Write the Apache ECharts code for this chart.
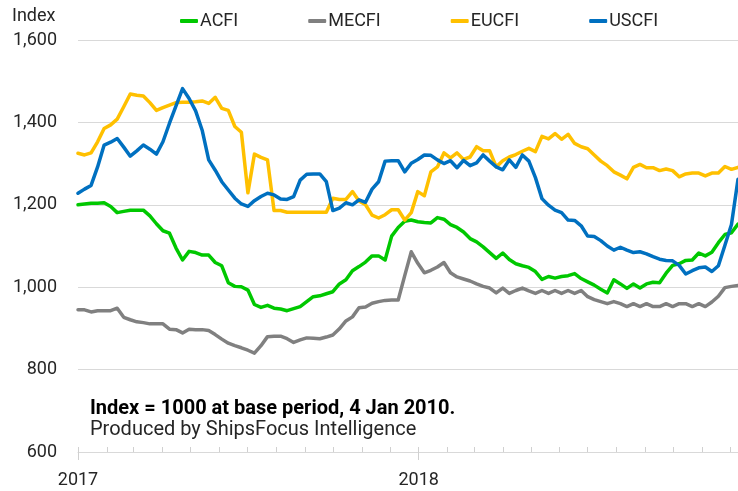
<!DOCTYPE html>
<html>
<head>
<meta charset="utf-8">
<script src="https://cdn.jsdelivr.net/npm/echarts@6/dist/echarts.min.js"></script>
<style>
html,body{margin:0;padding:0;background:#fff;}
#chart{width:738px;height:491px;}
</style>
</head>
<body>
<div id="chart"></div>
<script>
// Weekly observation dates
const dates = [
'2017-01-01','2017-01-08','2017-01-15','2017-01-22','2017-01-29',
'2017-02-05','2017-02-12','2017-02-19','2017-02-26',
'2017-03-05','2017-03-12','2017-03-19','2017-03-26',
'2017-04-02','2017-04-09','2017-04-16','2017-04-23','2017-04-30',
'2017-05-07','2017-05-14','2017-05-21','2017-05-28',
'2017-06-04','2017-06-11','2017-06-18','2017-06-25',
'2017-07-02','2017-07-09','2017-07-16','2017-07-23','2017-07-30',
'2017-08-06','2017-08-13','2017-08-20','2017-08-27',
'2017-09-03','2017-09-10','2017-09-17','2017-09-24',
'2017-10-01','2017-10-08','2017-10-15','2017-10-22','2017-10-29',
'2017-11-05','2017-11-12','2017-11-19','2017-11-26',
'2017-12-03','2017-12-10','2017-12-17','2017-12-24','2017-12-31',
'2018-01-07','2018-01-14','2018-01-21','2018-01-28',
'2018-02-04','2018-02-11','2018-02-18','2018-02-25',
'2018-03-04','2018-03-11','2018-03-18','2018-03-25',
'2018-04-01','2018-04-08','2018-04-15','2018-04-22','2018-04-29',
'2018-05-06','2018-05-13','2018-05-20','2018-05-27',
'2018-06-03','2018-06-10','2018-06-17','2018-06-24',
'2018-07-01','2018-07-08','2018-07-15','2018-07-22','2018-07-29',
'2018-08-05','2018-08-12','2018-08-19','2018-08-26',
'2018-09-02','2018-09-09','2018-09-16','2018-09-23','2018-09-30',
'2018-10-07','2018-10-14','2018-10-21','2018-10-28',
'2018-11-04','2018-11-11','2018-11-18','2018-11-25',
'2018-12-02','2018-12-09'
];

const ACFI = [
1200,1202,1204,1204,1205,1196,1181,1184,1187,1187,
1187,1173,1154,1137,1131,1095,1066,1087,1084,1078,
1078,1060,1052,1011,1002,1001,993,958,951,956,
949,947,943,948,953,965,977,979,984,989,
1008,1018,1040,1050,1061,1076,1076,1066,1124,1145,
1160,1163,1159,1157,1156,1169,1165,1152,1145,1134,
1118,1110,1098,1084,1070,1083,1067,1057,1052,1048,
1038,1019,1026,1022,1026,1028,1033,1021,1013,1005,
995,986,1018,1008,997,1008,998,1008,1012,1011,
1034,1053,1057,1065,1066,1083,1076,1085,1108,1128,
1132,1153
];

const MECFI = [
945,945,940,943,943,943,949,927,921,916,
914,911,911,911,898,897,889,898,897,897,
895,885,874,864,858,853,847,840,858,880,
881,881,875,866,872,877,876,875,879,884,
899,918,928,950,952,961,965,968,969,969,
1028,1086,1058,1035,1041,1049,1060,1035,1025,1020,
1015,1008,1002,998,986,998,985,992,998,991,
985,992,985,992,985,992,985,992,977,970,
965,960,965,960,953,960,953,960,953,953,
960,953,960,960,953,960,953,964,978,999,
1002,1004
];

const EUCFI = [
1325,1321,1326,1353,1385,1394,1408,1438,1469,1466,
1464,1448,1429,1436,1442,1448,1449,1449,1450,1452,
1446,1461,1434,1429,1390,1376,1229,1323,1315,1309,
1186,1186,1182,1182,1182,1182,1182,1182,1182,1216,
1213,1213,1232,1209,1200,1175,1168,1176,1188,1188,
1163,1181,1232,1222,1280,1292,1326,1314,1326,1310,
1316,1341,1331,1331,1292,1307,1316,1322,1330,1337,
1329,1366,1360,1373,1359,1371,1349,1341,1336,1321,
1306,1295,1280,1272,1263,1291,1298,1290,1290,1283,
1287,1283,1268,1275,1277,1277,1270,1277,1277,1293,
1286,1291
];

const USCFI = [
1228,1238,1247,1292,1345,1352,1361,1340,1318,1331,
1345,1335,1323,1353,1398,1440,1482,1458,1428,1381,
1309,1284,1256,1236,1216,1202,1196,1210,1220,1228,
1224,1214,1213,1220,1260,1274,1275,1275,1256,1186,
1192,1205,1200,1212,1206,1238,1256,1306,1307,1307,
1280,1301,1310,1321,1320,1309,1300,1307,1290,1308,
1295,1302,1321,1306,1292,1285,1309,1291,1321,1306,
1266,1215,1199,1187,1181,1163,1162,1149,1124,1123,
1113,1100,1090,1097,1090,1084,1086,1081,1074,1068,
1065,1064,1053,1032,1040,1047,1049,1038,1052,1102,
1152,1262
];

const seriesNames = ['ACFI','MECFI','EUCFI','USCFI'];
const seriesColors = ['#00c800','#808080','#ffc000','#0070c0'];
const seriesValues = [ACFI, MECFI, EUCFI, USCFI];

const yTicks = [600, 800, 1000, 1200, 1400, 1600];
const yearTickLabels = ['2017', '2018'];
const noteLines = ['Index = 1000 at base period, 4 Jan 2010.', 'Produced by ShipsFocus Intelligence'];

function ts(s){ const p = s.split('-').map(Number); return new Date(p[0], p[1]-1, p[2]).getTime(); }
const monthTicks = [];
for (let y = 2017; y <= 2018; y++) for (let m = 0; m < 12; m++) {
  const t = new Date(y, m, 1).getTime();
  if (t <= ts(dates[dates.length-1])) monthTicks.push(t);
}
const yearTicks = yearTickLabels.map(y => new Date(Number(y), 0, 1).getTime());

const FONT = 'Roboto, "Noto Sans", sans-serif';
const TXT = '#262626';
const xMin = ts(dates[0]), xMax = ts(dates[dates.length-1]);

const chart = echarts.init(document.getElementById('chart'), null, {renderer:'canvas'});
chart.setOption({
  animation: false,
  backgroundColor: '#fff',
  textStyle: {fontFamily: FONT},
  grid: {left: 78, right: 0, top: 40, bottom: 39, containLabel: false},
  legend: {
    top: 7, left: 175, itemGap: 70, itemWidth: 18, itemHeight: 4,
    icon: 'roundRect',
    textStyle: {fontFamily: FONT, fontSize: 18, color: TXT, padding: [0,0,0,-3]},
    data: seriesNames
  },
  xAxis: [{
    type: 'value', min: xMin, max: xMax, position: 'bottom',
    axisLine: {show: true, lineStyle: {color: '#d9d9d9', width: 1}},
    axisTick: {show: true, inside: true, length: 5, customValues: monthTicks, lineStyle: {color: '#d0d0d0'}},
    axisLabel: {show: false},
    splitLine: {show: false}
  }, {
    type: 'value', min: xMin, max: xMax, position: 'bottom',
    axisLine: {show: false},
    axisTick: {show: true, inside: false, length: 8, customValues: yearTicks, lineStyle: {color: '#d0d0d0'}},
    axisLabel: {show: true, customValues: yearTicks, fontSize: 18, color: TXT, fontFamily: FONT, margin: 19,
      formatter: v => String(new Date(v).getFullYear())},
    splitLine: {show: false}
  }],
  yAxis: {
    type: 'value', min: yTicks[0], max: yTicks[yTicks.length-1], interval: 200,
    axisLine: {show: false}, axisTick: {show: false},
    axisLabel: {fontSize: 18, color: TXT, fontFamily: FONT, margin: 21,
      formatter: v => v.toLocaleString('en-US')},
    splitLine: {show: true, lineStyle: {color: '#d9d9d9', width: 1}}
  },
  graphic: [
    {type: 'text', left: 12, top: 7, style: {text: 'Index', fontSize: 18, fill: TXT, fontFamily: FONT}},
    {type: 'text', left: 90, top: 399, style: {text: noteLines[0], fontSize: 20, fontWeight: 'bold', fill: '#000', fontFamily: FONT}},
    {type: 'text', left: 90, top: 420, style: {text: noteLines[1], fontSize: 20, fill: TXT, fontFamily: FONT}}
  ],
  series: seriesNames.map((n, k) => ({
    name: n, type: 'line', xAxisIndex: 0,
    showSymbol: false, symbol: 'none',
    lineStyle: {width: 3.5, color: seriesColors[k], cap: 'round', join: 'round'},
    itemStyle: {color: seriesColors[k]},
    data: dates.map((d, i) => [ts(d), seriesValues[k][i]])
  }))
});
</script>
</body>
</html>
